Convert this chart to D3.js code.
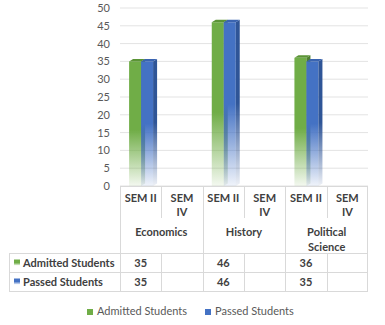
<!DOCTYPE html>
<html><head><meta charset="utf-8">
<script src="https://cdn.jsdelivr.net/npm/d3@7"></script>
<style>
html,body{margin:0;padding:0;background:#fff;}
svg{display:block;font-family:Lato,"Open Sans",sans-serif;}
</style></head>
<body><svg id="c" width="385" height="325"></svg>
<script>
const categories = ["Economics", "History", "Political Science"];
const semesters = ["SEM II", "SEM IV"];
const seriesNames = ["Admitted Students", "Passed Students"];
const admitted = [35, null, 46, null, 36, null];
const passed = [35, null, 46, null, 35, null];
const yTicks = [0, 5, 10, 15, 20, 25, 30, 35, 40, 45, 50];

const svg = d3.select("#c");
const colors = {
  front: ["#70AD47", "#4472C4"],
  top: ["#5B9436", "#3A64B0"],
  side: ["#4E7F2F", "#2F5597"]
};
const series = [admitted, passed];
const cols = [];
categories.forEach((c, ci) => semesters.forEach((s, si) => cols.push({ key: ci + "-" + si, cat: c, sem: s, i: cols.length })));

const x = d3.scaleBand().domain(cols.map(d => d.key)).range([120, 368]).padding(0);
const y = d3.scaleLinear().domain([0, 50]).range([186, 8]);
const bw = x.bandwidth();
const inner = d3.scaleBand().domain([0, 1]).range([bw * 0.22, bw * 0.22 + 24]).padding(0);
const dx = 4, dy = 2.5;

// gradients
const defs = svg.append("defs");
["front", "top", "side"].forEach(face => {
  [0, 1].forEach(s => {
    const g = defs.append("linearGradient").attr("id", `g-${face}-${s}`)
      .attr("x1", 0).attr("y1", 0).attr("x2", 0).attr("y2", 1);
    g.append("stop").attr("offset", "0").attr("stop-color", colors[face][s]).attr("stop-opacity", 1);
    g.append("stop").attr("offset", s === 0 ? "0.55" : "0.5").attr("stop-color", colors[face][s]).attr("stop-opacity", 1);
    g.append("stop").attr("offset", "1").attr("stop-color", colors[face][s]).attr("stop-opacity", 0.08);
  });
});

// gridlines
svg.append("g").selectAll("line").data(yTicks).join("line")
  .attr("x1", 120).attr("x2", 368)
  .attr("y1", d => y(d)).attr("y2", d => y(d))
  .attr("stroke", "#e3e3e3").attr("stroke-width", 1);

// y axis labels
const yAxis = d3.axisLeft(y).tickValues(yTicks).tickSize(0).tickPadding(0);
const ya = svg.append("g").attr("transform", "translate(110,0)").call(yAxis);
ya.select(".domain").remove();
ya.selectAll("text").attr("fill", "#595959").style("font-size", "11px").style("font-family", "Lato");

// bars
const bars = svg.append("g");
cols.forEach((col, ci) => {
  [0, 1].forEach(s => {
    const v = series[s][ci];
    if (v == null) return;
    const x0 = x(col.key) + inner(s);
    const w = inner.bandwidth();
    const yt = y(v), yb = y(0);
    bars.append("rect").attr("x", x0).attr("y", yt).attr("width", w).attr("height", yb - yt)
      .attr("fill", `url(#g-front-${s})`);
    bars.append("polygon")
      .attr("points", [[x0 + w, yt], [x0 + w + dx, yt - dy], [x0 + w + dx, yb - dy], [x0 + w, yb]].join(" "))
      .attr("fill", `url(#g-side-${s})`);
    bars.append("polygon")
      .attr("points", [[x0, yt], [x0 + dx, yt - dy], [x0 + w + dx, yt - dy], [x0 + w, yt]].join(" "))
      .attr("fill", colors.top[s]);
  });
});

// data table
const grid = "#d9d9d9";
const tbl = svg.append("g").attr("stroke", grid).attr("stroke-width", 1);
const rowTop = 186, semBottom = 218, catBottom = 253, r1 = 272, r2 = 291;
// horizontal lines
tbl.append("line").attr("x1", 120).attr("x2", 368).attr("y1", rowTop + 0.5).attr("y2", rowTop + 0.5);
[catBottom, r1, r2].forEach(yy => tbl.append("line").attr("x1", 9).attr("x2", 368).attr("y1", yy + 0.5).attr("y2", yy + 0.5));
// vertical lines
cols.forEach((col, i) => {
  const xx = Math.round(x(col.key)) + 0.5;
  if (i % 2 === 0) tbl.append("line").attr("x1", xx).attr("x2", xx).attr("y1", rowTop).attr("y2", r2);
  else {
    tbl.append("line").attr("x1", xx).attr("x2", xx).attr("y1", rowTop).attr("y2", semBottom);
    tbl.append("line").attr("x1", xx).attr("x2", xx).attr("y1", catBottom).attr("y2", r2);
  }
});
tbl.append("line").attr("x1", 367.5).attr("x2", 367.5).attr("y1", rowTop).attr("y2", r2);
tbl.append("line").attr("x1", 9.5).attr("x2", 9.5).attr("y1", catBottom).attr("y2", r2);

const txt = svg.append("g").attr("fill", "#404040").style("font-size", "11px").style("font-weight", "bold")
  .attr("text-anchor", "middle");
cols.forEach(col => {
  const cx = x(col.key) + bw / 2;
  const parts = col.sem === "SEM IV" ? ["SEM", "IV"] : [col.sem];
  parts.forEach((p, k) => txt.append("text").attr("x", cx).attr("y", 202 + k * 14).text(p));
});
categories.forEach((c, ci) => {
  const cx = x(ci + "-0") + bw;
  const parts = c === "Political Science" ? ["Political", "Science"] : [c];
  parts.forEach((p, k) => txt.append("text").attr("x", cx).attr("y", 236 + k * 14.5).text(p));
});
series.forEach((arr, s) => {
  const yy = (s === 0 ? catBottom : r1) + 13.5;
  arr.forEach((v, ci) => {
    if (v == null) return;
    txt.append("text").attr("x", x(cols[ci].key) + bw / 2).attr("y", yy).text(v);
  });
  svg.append("rect").attr("x", 14).attr("y", yy - 7).attr("width", 6).attr("height", 6).attr("fill", `url(#g-front-${s})`);
  txt.append("text").attr("x", 23).attr("y", yy).attr("text-anchor", "start").text(seriesNames[s]);
});

// legend
const leg = svg.append("g").style("font-size", "11px").attr("fill", "#595959");
const legX = [87, 205];
seriesNames.forEach((n, s) => {
  leg.append("rect").attr("x", legX[s]).attr("y", 309).attr("width", 6).attr("height", 6).attr("fill", colors.front[s]);
  leg.append("text").attr("x", legX[s] + 10).attr("y", 315).text(n);
});
</script></body></html>
